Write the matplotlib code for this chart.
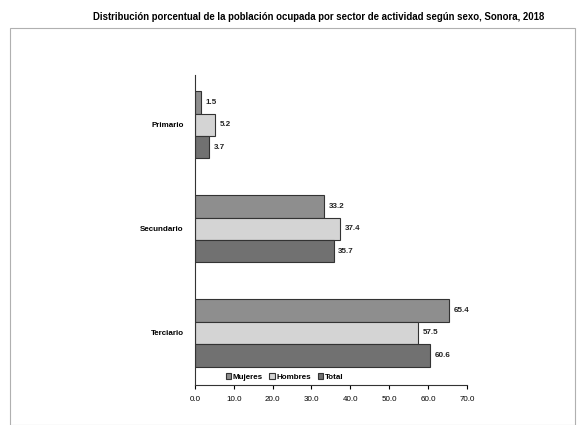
import numpy as np
import matplotlib
matplotlib.use("Agg")
import matplotlib.pyplot as plt
from matplotlib.patches import Rectangle

# data
sectores = ["Primario", "Secundario", "Terciario"]
series = ["Mujeres", "Hombres", "Total"]
mujeres = [1.5, 33.2, 65.4]
hombres = [5.2, 37.4, 57.5]
total = [3.7, 35.7, 60.6]
xticks = [0, 10, 20, 30, 40, 50, 60, 70]

colors = ["#8e8e8e", "#d4d4d4", "#717171"]
plt.rcParams['font.family'] = ['Liberation Sans', 'DejaVu Sans']

fig = plt.figure(figsize=(5.8, 4.25), dpi=100)
fig.patch.set_facecolor("white")
fig.add_artist(Rectangle((0.017, 0.0), 0.975, 0.935, transform=fig.transFigure,
                         fill=False, edgecolor="#b0b0b0", linewidth=0.8))

ax = fig.add_axes([0.336, 0.094, 0.469, 0.73])
y = np.arange(len(sectores))
h = 0.215
for k, (vals, name) in enumerate(zip([mujeres, hombres, total], series)):
    pos = y + (k - 1) * h
    bars = ax.barh(pos, vals, height=h, color=colors[k], edgecolor="#333333",
                   linewidth=0.8, label=name)
    for b, v in zip(bars, vals):
        ax.text(v + 1.2, b.get_y() + b.get_height() / 2, f"{v:.1f}",
                va="center", ha="left", fontsize=5.8, fontweight="bold", color="#222222")

ax.set_ylim(2.5, -0.48)
ax.set_xlim(0, 70)
ax.set_yticks(y)
ax.set_yticklabels(sectores, fontsize=5.8, fontweight="bold")
ax.set_xticks(xticks)
ax.set_xticklabels([f"{t:.1f}" for t in xticks], fontsize=5.8)
ax.tick_params(axis="y", length=0, pad=8)
ax.tick_params(axis="x", length=3, width=0.8, pad=5)
for s in ["top", "right"]:
    ax.spines[s].set_visible(False)
ax.spines["left"].set_color("#333333")
ax.spines["bottom"].set_color("#333333")

ax.legend(loc="lower center", bbox_to_anchor=(0.33, -0.01), ncol=3, frameon=False,
          handlelength=0.7, handleheight=0.7, handletextpad=0.2,
          columnspacing=0.8, prop={'weight': 'bold', 'size': 5.8})

fig.text(0.55, 0.96, "Distribución porcentual de la población ocupada por sector de actividad según sexo, Sonora, 2018",
         ha="center", va="center", fontsize=6.9, fontweight="bold")

fig.savefig("out.png", dpi=100)
